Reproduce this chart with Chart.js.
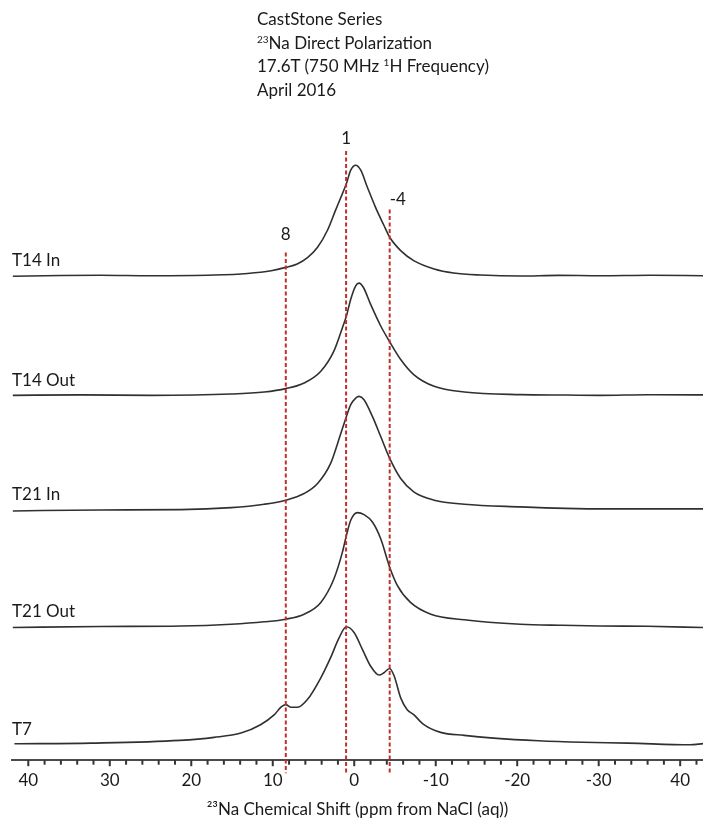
<!DOCTYPE html>
<html>
<head>
<meta charset="utf-8">
<script src="https://cdn.jsdelivr.net/npm/chart.js@4.4.1/dist/chart.umd.min.js"></script>
<style>
    html, body { margin: 0; padding: 0; background: #fff; }
    #wrap { position: relative; width: 703px; height: 824px; }
    #heading {
        position: absolute; left: 257px; top: 7px;
        font-family: Lato, sans-serif; font-size: 17px; line-height: 23.5px; color: #1a1a1a;
    }
    #heading sup { font-size: 10px; line-height: 0; vertical-align: 6px; }
</style>
</head>
<body>
<div id="wrap">
    <canvas id="nmrChart" width="703" height="824"></canvas>
    <div id="heading">
        CastStone Series<br>
        <sup>23</sup>Na Direct Polarization<br>
        17.6T (750 MHz <sup>1</sup>H Frequency)<br>
        April 2016
    </div>
</div>
<script>
// ============================================
// 23Na NMR - stacked spectra
// ============================================

// axis ticks (last label is printed "40" in the original)
const tickValues = [40, 30, 20, 10, 0, -10, -20, -30, -40];
const tickLabels = ['40', '30', '20', '10', '0', '-10', '-20', '-30', '40'];

// reference lines (ppm)
const markerPpm = [8.4, 1.0, -4.35];
const markerLabels = ['8', '1', '-4'];

// sample names, top to bottom, and their vertical offsets (a.u.)
const sampleNames = ['T14 In', 'T14 Out', 'T21 In', 'T21 Out', 'T7'];
const sampleOffsets = [482, 363, 249, 133, 16];

// spectra (ppm / intensity a.u.)
const ppmT14In = [41.9, 36.0, 31.1, 25.0, 17.2, 13.1, 10.2, 8.4, 7.0, 5.7, 4.5, 3.3, 2.3, 1.45, 0.96, 0.43, -0.18, -0.8, -1.6, -2.6, -3.65, -4.35, -5.7, -7.3, -9.8, -12.2, -15.5, -20.4, -25.0, -30.2, -36.3, -42.8];
const intT14In = [-0.5, 0.3, 0.5, 0, 0.7, 2.3, 5, 8.3, 11.7, 18.3, 28.3, 45, 65, 81.7, 91.7, 105, 110, 105, 88.3, 68.3, 50, 38.3, 25, 15, 6.7, 2.7, 0.7, -0.3, 0.4, 0, 0.5, 0];

const ppmT14Out = [41.9, 33.5, 24.9, 15.1, 11.05, 8.4, 6.15, 4.1, 2.5, 1.45, 0.96, 0.43, -0.18, -0.59, -1.13, -2.0, -3.25, -4.35, -5.7, -7.3, -9.8, -13.5, -20.4, -26.0, -30.2, -36.0, -42.8];
const intT14Out = [0, 0.5, 0, 1.3, 3.3, 6.7, 12.3, 24, 44, 67.3, 79, 95.7, 109, 111.7, 107.3, 90.7, 69, 53.3, 35.7, 20.7, 9, 3.3, 0.7, 0.3, 0, 0.6, 0.5];

const ppmT21In = [41.9, 31.1, 21.3, 15.1, 11.05, 8.4, 6.15, 4.5, 2.9, 1.65, 0.96, 0.43, -0.18, -0.59, -1.2, -2.23, -3.25, -4.35, -5.7, -7.3, -9.8, -13.5, -20.4, -25.9, -31.4, -36.3, -42.8];
const intT21In = [-1, 0, 0.3, 2.3, 5.7, 9.7, 16.3, 26.3, 46.3, 76, 93, 104.7, 111.3, 113, 109.7, 93, 73, 51.3, 31.3, 18, 9.7, 5.7, 3, 1.5, 1, 1, 1];

const ppmT21Out = [41.9, 31.1, 21.3, 15.1, 11.05, 8.4, 6.15, 4.1, 2.5, 1.45, 0.96, 0.43, -0.39, -1.2, -2.23, -3.25, -4.35, -5.3, -6.9, -9.4, -13.5, -20.4, -25.5, -30.2, -36.0, -42.8];
const intT21Out = [-1, 0, 0.5, 2.3, 4.7, 7.3, 12.3, 24, 47.3, 74, 90.7, 105.7, 113.3, 111.3, 104, 87.3, 59, 40.7, 24, 12.3, 6.7, 2.3, 1.2, 0.5, 0.2, -1];

const ppmT7 = [41.7, 32.3, 21.4, 17.2, 13.9, 11.5, 9.8, 9.0, 8.4, 7.8, 6.95, 5.75, 4.1, 2.9, 1.85, 0.96, 0.02, -1.0, -2.0, -3.05, -3.65, -4.35, -4.9, -5.7, -6.5, -7.3, -8.55, -10.6, -13.5, -17.1, -22.6, -28.0, -33.6, -41.2, -42.8];
const intT7 = [0.3, 1, 3.7, 6.7, 11, 19.3, 29.3, 36.7, 39.3, 36.7, 36.7, 44.3, 66, 86, 106, 116.7, 111, 94.3, 77.7, 68.7, 71, 75.3, 67.7, 46, 34.3, 29.3, 19.3, 11.7, 8.7, 6, 3.3, 1.8, 1, -0.7, 0.5];

const spectraPpm = [ppmT14In, ppmT14Out, ppmT21In, ppmT21Out, ppmT7];
const spectraInt = [intT14In, intT14Out, intT21In, intT21Out, intT7];

Chart.defaults.font.family = 'Lato, sans-serif';
Chart.defaults.font.size = 17;
Chart.defaults.color = '#1a1a1a';

const TEXT_COLOR = '#1a1a1a';
const TRACE_COLOR = '#303030';
const MARKER_COLOR = '#c0302b';

// red dashed reference lines, small axis ticks and sample labels
const overlayPlugin = {
    id: 'overlay',
    afterDatasetsDraw(chart, args, opts) {
        const { ctx, scales: { x, y } } = chart;
        ctx.save();
        ctx.strokeStyle = MARKER_COLOR;
        ctx.lineWidth = 2;
        ctx.setLineDash([4, 2.5]);
        markerPpm.forEach((v, i) => {
            const px = x.getPixelForValue(v);
            ctx.beginPath();
            ctx.moveTo(px, y.getPixelForValue(opts.markerTops[i]));
            ctx.lineTo(px, x.top + opts.markerBelow);
            ctx.stroke();
        });
        ctx.restore();
    },
    afterDraw(chart, args, opts) {
        const { ctx, scales: { x, y }, chartArea } = chart;
        ctx.save();

        // tick marks: long at every 10, short at every 2
        ctx.strokeStyle = '#333';
        ctx.lineWidth = 2;
        x.ticks.forEach(t => {
            const px = x.getPixelForValue(t.value);
            const len = t.value % 10 === 0 ? 6 : 4.5;
            ctx.beginPath();
            ctx.moveTo(px, x.top);
            ctx.lineTo(px, x.top + len);
            ctx.stroke();
        });

        ctx.fillStyle = TEXT_COLOR;
        ctx.font = '17px Lato, sans-serif';
        ctx.textBaseline = 'middle';

        // marker labels
        markerLabels.forEach((lab, i) => {
            ctx.textAlign = opts.markerAlign[i];
            ctx.fillText(lab, x.getPixelForValue(markerPpm[i]), y.getPixelForValue(opts.markerLabelY[i]));
        });

        // sample labels
        ctx.textAlign = 'left';
        sampleNames.forEach((name, i) => {
            ctx.fillText(name, chartArea.left, y.getPixelForValue(sampleOffsets[i]) - 15);
        });
        ctx.restore();
    }
};

const datasets = sampleNames.map((name, i) => ({
    label: name,
    data: spectraPpm[i].map((p, k) => ({ x: p, y: sampleOffsets[i] + spectraInt[i][k] })),
    borderColor: TRACE_COLOR,
    borderWidth: 1.6,
    pointRadius: 0,
    fill: false,
    cubicInterpolationMode: 'monotone'
}));

new Chart(document.getElementById('nmrChart'), {
    type: 'line',
    data: { datasets },
    options: {
        responsive: false,
        animation: false,
        devicePixelRatio: 1,
        layout: { padding: { top: 130, left: 12, right: 0, bottom: 4 } },
        plugins: {
            legend: { display: false },
            tooltip: { enabled: false },
            overlay: {
                markerTops: [505, 606, 548],
                markerLabelY: [523, 619, 558],
                markerAlign: ['center', 'center', 'left'],
                markerBelow: 13
            }
        },
        scales: {
            x: {
                type: 'linear',
                reverse: true,
                min: -42.8,
                max: 42,
                afterBuildTicks: scale => {
                    const t = [];
                    for (let v = -42; v <= 40; v += 2) t.push({ value: v });
                    scale.ticks = t;
                },
                ticks: {
                    autoSkip: false,
                    maxRotation: 0,
                    padding: 4,
                    color: TEXT_COLOR,
                    callback: v => {
                        const i = tickValues.indexOf(v);
                        return i >= 0 ? tickLabels[i] : '';
                    }
                },
                grid: { display: false, drawTicks: true, tickLength: 6 },
                border: { display: true, color: '#4a4a4a', width: 2 },
                title: {
                    display: true,
                    text: '²³Na Chemical Shift (ppm from NaCl (aq))',
                    color: TEXT_COLOR,
                    padding: { top: 5, bottom: 0 }
                }
            },
            y: {
                type: 'linear',
                display: false,
                min: 0,
                max: 627
            }
        }
    },
    plugins: [overlayPlugin]
});
</script>
</body>
</html>
